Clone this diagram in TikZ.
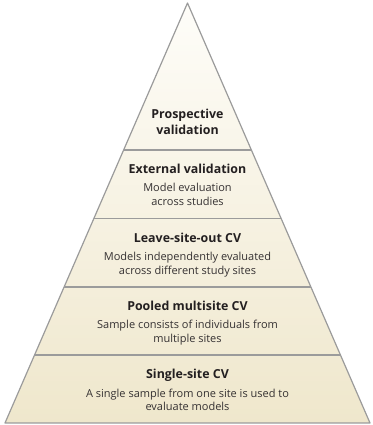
\documentclass[tikz,border=0pt]{standalone}
\usepackage{fontspec}
\setmainfont{Open Sans}
\usetikzlibrary{positioning,calc}
\definecolor{edgegray}{RGB}{155,155,155}
\definecolor{sandlight}{RGB}{254,253,249}
\definecolor{sanddark}{RGB}{239,231,204}
\definecolor{inkgray}{RGB}{35,31,32}
\tikzstyle{tier}=[align=center, inner sep=0pt, anchor=base, text=inkgray,
        font=\fontsize{12.4}{16.7}\selectfont\bfseries]
\tikzstyle{note}=[align=center, inner sep=0pt, text=inkgray!92,
        font=\fontsize{11}{14}\selectfont]
\tikzstyle{divider}=[draw=edgegray, line width=1.2pt]

\begin{document}
\begin{tikzpicture}[x=1pt, y=1pt]
	\useasboundingbox (0,0) rectangle (372,425);

	% pyramid corners
	\coordinate (apex) at (187.5,422);
	\coordinate (baseL) at (5,2);
	\coordinate (baseR) at (370,2);

	\shade[top color=sandlight, bottom color=sanddark] (apex) -- (baseR) -- (baseL) -- cycle;

	% layer boundaries
	\draw[divider] ($(apex)!0.350!(baseL)$) -- ($(apex)!0.350!(baseR)$);
	\draw[divider] ($(apex)!0.514!(baseL)$) -- ($(apex)!0.514!(baseR)$);
	\draw[divider] ($(apex)!0.676!(baseL)$) -- ($(apex)!0.676!(baseR)$);
	\draw[divider] ($(apex)!0.838!(baseL)$) -- ($(apex)!0.838!(baseR)$);

	\draw[divider, line join=round] (apex) -- (baseR) -- (baseL) -- cycle;

	% layer labels, top to bottom (base = last line)
	\node (prospective) [tier] at (187.5,290) {Prospective\\validation};

	\node (external) [tier] at (187.5,251.5) {External validation};
	\node (externalNote) [note, below=32.5pt of external.base, anchor=base]
        {Model evaluation\\across studies};

	\node (leaveOut) [tier] at (187.5,182.5) {Leave-site-out CV};
	\node (leaveOutNote) [note, below=32.5pt of leaveOut.base, anchor=base]
        {Models independently evaluated\\across different study sites};

	\node (pooled) [tier] at (187.5,114.5) {Pooled multisite CV};
	\node (pooledNote) [note, below=32.5pt of pooled.base, anchor=base]
        {Sample consists of individuals from\\multiple sites};

	\node (singleSite) [tier] at (187.5,46.5) {Single-site CV};
	\node (singleSiteNote) [note, below=32.5pt of singleSite.base, anchor=base]
        {A single sample from one site is used to\\evaluate models};

\end{tikzpicture}
\end{document}
